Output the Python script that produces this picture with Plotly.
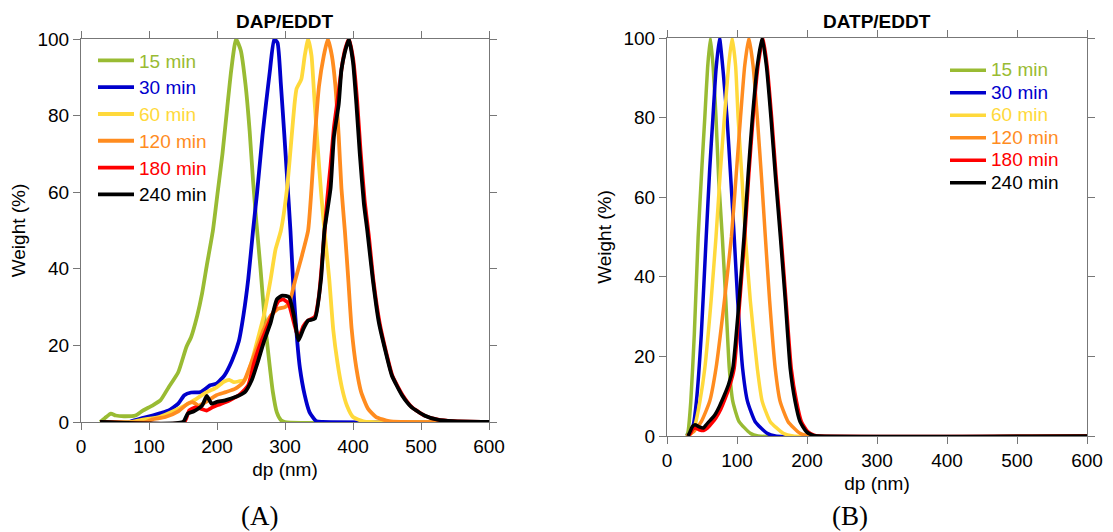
import plotly.graph_objects as go

W, H = 1113, 532

labels = ["15 min", "30 min", "60 min", "120 min", "180 min", "240 min"]
colors = ["#99BB33", "#0000CC", "#FFD93B", "#FF8C1F", "#FF0000", "#000000"]

# ---------------- Panel A : DAP/EDDT ----------------
a15_x = [28, 35, 44, 51, 63, 80, 91, 105, 117, 129, 143, 155, 162, 171, 178, 185, 194, 201, 208, 215, 221, 228, 235, 242, 248, 253, 258, 264, 270, 276, 282, 288, 294, 300, 600]
a15_y = [0, 1.0, 2.2, 1.7, 1.5, 1.7, 3.0, 4.3, 5.7, 9.1, 13, 19.6, 22.2, 27.8, 33.5, 40.9, 50, 60, 70, 82, 92, 100, 97, 88, 76, 63, 52, 40, 27, 17, 8, 2.5, 0.5, 0, 0]

a30_x = [28, 70, 77, 90, 105, 117, 129, 143, 152, 162, 176, 190, 199, 211, 222, 232, 239, 246, 253, 259, 267, 272, 278, 284, 289, 294, 299, 303, 308, 313, 318, 322, 329, 336, 346, 355, 600]
a30_y = [0, 0, 0.4, 1, 1.7, 2.3, 3, 4.8, 7, 7.7, 7.8, 9.6, 10, 12.2, 16, 21, 28, 37.4, 50, 60, 75, 83, 92, 100, 99, 88, 75, 64, 50, 33, 21, 14, 7, 2.6, 0.2, 0, 0]

a60_x = [28, 75, 91, 115, 138, 162, 185, 199, 210, 218, 225, 232, 241, 251, 260, 269, 279, 286, 294, 303, 310, 314, 317, 324, 329, 334, 339, 343, 348, 353, 358, 365, 371, 377, 384, 391, 400, 415, 425, 600]
a60_y = [0, 0, 0.6, 1.3, 3, 5.2, 7.8, 9, 10.5, 11, 10.4, 10.6, 11, 15.7, 21.7, 27.8, 37.4, 45, 50, 61, 75, 83, 87, 89.5, 95.6, 100, 95.6, 85, 72, 60, 50, 37.4, 24, 15.7, 8.7, 4.3, 1.3, 0.2, 0, 0]

a120_x = [28, 95, 105, 124, 143, 157, 164, 173, 185, 199, 213, 227, 239, 251, 260, 269, 279, 290, 300, 306, 315, 325, 334, 339, 344, 350, 357, 363, 369, 374, 379, 383, 388, 393, 398, 405, 412, 422, 434, 453, 470, 600]
a120_y = [0, 0, 0.7, 1.3, 2.8, 4.8, 5.2, 4.3, 5.4, 7, 7.8, 8.7, 10.4, 15.7, 20, 24.3, 27.8, 29.6, 30, 31, 37, 43.5, 50, 61, 74.6, 87.7, 95.6, 100, 95.6, 88, 74.6, 61, 50, 37.4, 24.3, 14, 7.8, 3.5, 1.3, 0.2, 0, 0]

a180_x = [28, 152, 159, 168, 176, 185, 194, 204, 213, 222, 232, 241, 246, 255, 265, 272, 279, 290, 297, 305, 313, 320, 327, 334, 344, 350, 356, 362, 367, 372, 378, 383, 388, 394, 400, 406, 411, 417, 423, 430, 439, 449, 458, 473, 487, 506, 525, 548, 600]
a180_y = [0, 0, 3, 3.8, 3.5, 3, 3.9, 4.6, 5.2, 6, 7, 8.5, 9.6, 15.7, 21, 24, 27, 31.5, 32, 31, 26, 22, 25, 26.5, 27.5, 33, 45, 58, 67, 77, 85, 92, 97, 100, 95, 84, 71, 58, 49, 37, 26, 18, 12, 7, 3.8, 1.6, 0.6, 0.2, 0]

a240_x = [28, 150, 157, 166, 178, 185, 192, 199, 213, 227, 241, 251, 260, 269, 279, 288, 296, 306, 313, 320, 327, 334, 344, 353, 358, 367, 372, 379, 383, 388, 394, 400, 405, 410, 416, 421, 429, 438, 448, 457, 472, 486, 505, 524, 547, 600]
a240_y = [0, 0, 2.2, 2.8, 4.3, 6.8, 4.8, 5.2, 5.7, 6.5, 7.8, 10.9, 15.7, 21, 26, 32, 33, 32.6, 27.8, 21.3, 24.3, 26.5, 27, 37.4, 50, 61, 74.6, 83, 92, 96.5, 100, 94, 83, 70, 57, 50, 37.4, 26, 18.3, 12.2, 7, 3.9, 1.7, 0.6, 0.2, 0]

# ---------------- Panel B : DATP/EDDT ----------------
b15_x = [28, 30, 34, 39, 44.5, 50, 54, 58, 62, 66, 70, 74, 79, 84, 89, 94, 103, 119, 130, 600]
b15_y = [0, 1, 8.7, 25.5, 50, 68, 80, 92.5, 100, 92.5, 80, 64, 50, 34, 17, 8.7, 3.6, 0.7, 0, 0]

b30_x = [28, 33, 37.5, 42, 49, 56, 61, 65.6, 70, 75, 80, 85.7, 91, 96, 101, 108, 115, 126, 143, 155, 600]
b30_y = [0, 0.7, 2.7, 8.7, 25.5, 50, 67, 80, 92, 100, 92, 80, 65, 50, 34, 17, 8.7, 3.6, 0.7, 0, 0]

b60_x = [28, 35, 40, 47, 54, 63, 70, 76, 82, 88, 93, 98, 101.6, 107, 112, 119, 129, 136, 147.5, 166, 180, 600]
b60_y = [0, 0.7, 2.7, 8.7, 17, 34, 50, 66, 80, 93, 100, 93, 80, 65, 50, 34, 17, 8.7, 3.6, 0.7, 0, 0]

b120_x = [28, 37.5, 49, 61, 70, 82, 92, 99, 105, 111, 117, 123, 129, 135, 140.5, 146.6, 154.6, 161.6, 173, 190, 205, 600]
b120_y = [0, 1, 3.6, 8.7, 17, 34, 50, 66, 80, 93, 100, 93, 80, 65, 50, 34, 17, 8.7, 3.6, 0.7, 0, 0]

b180_x = [30, 33, 37, 41, 47, 53, 58, 64, 70, 77, 84, 90, 96, 104, 111, 117, 123, 130, 137, 143, 149.5, 156, 163, 170, 177.5, 185, 192, 201, 210, 218, 600]
b180_y = [0, 0.5, 1.8, 2.0, 1.5, 1.4, 2, 3.2, 4.6, 6.8, 9.8, 12.8, 17, 34, 50, 66, 80, 93, 100, 93, 80, 65, 50, 34, 17, 8.7, 3.6, 1.1, 0.2, 0, 0]

b240_x = [30, 33, 36, 40, 46, 52, 56, 62, 68, 75, 82, 88, 94, 103, 110, 116, 122, 129, 136, 142, 148.5, 155, 162, 169, 176, 183, 190, 199, 208, 215, 600]
b240_y = [0, 1.1, 2.3, 2.8, 2.3, 2, 2.8, 4, 5.2, 7.5, 10.3, 13, 17, 34, 50, 66, 80, 93, 100, 93, 80, 65, 50, 34, 17, 8.7, 3.6, 1.1, 0.2, 0, 0]

panelA = [(a15_x, a15_y), (a30_x, a30_y), (a60_x, a60_y), (a120_x, a120_y), (a180_x, a180_y), (a240_x, a240_y)]
panelB = [(b15_x, b15_y), (b30_x, b30_y), (b60_x, b60_y), (b120_x, b120_y), (b180_x, b180_y), (b240_x, b240_y)]

x_ticks = [0, 100, 200, 300, 400, 500, 600]
y_ticks = [0, 20, 40, 60, 80, 100]

FONT = "Liberation Sans, Arial, sans-serif"
FS = 19
AXC = "#777777"

fig = go.Figure()

for i, (xs, ys) in enumerate(panelA):
    fig.add_trace(go.Scatter(
        x=xs, y=ys, mode="lines", xaxis="x", yaxis="y",
        line=dict(color=colors[i], width=3.8, shape="spline", smoothing=0.5),
        name='<span style="color:%s;font-size:%spx">%s</span>' % (colors[i], FS, labels[i]),
        legend="legend", legendgroup="a%d" % i,
    ))
for i, (xs, ys) in enumerate(panelB):
    fig.add_trace(go.Scatter(
        x=xs, y=ys, mode="lines", xaxis="x2", yaxis="y2",
        line=dict(color=colors[i], width=3.5, shape="spline", smoothing=0.5),
        name='<span style="color:%s;font-size:%spx">%s</span>' % (colors[i], FS, labels[i]),
        legend="legend2", legendgroup="b%d" % i,
    ))

def px_x(p):
    return p / W

def px_y(p):
    return 1 - p / H

axis_common = dict(
    showline=True, linecolor=AXC, linewidth=1.2, mirror="ticks",
    ticks="outside", ticklen=7, tickcolor=AXC, tickwidth=1.2,
    showgrid=False, zeroline=False, automargin=False,
    tickfont=dict(family=FONT, size=FS, color="#000000"),
)

fig.update_layout(
    width=W, height=H, autosize=False,
    margin=dict(l=0, r=0, t=0, b=0, autoexpand=False),
    paper_bgcolor="white", plot_bgcolor="white",
    font=dict(family=FONT, size=FS, color="#000000"),
    xaxis=dict(domain=[px_x(81), px_x(489)], range=[0, 600], tickvals=x_ticks, anchor="y",
               title=dict(text="dp (nm)", standoff=6, font=dict(size=FS)), **axis_common),
    yaxis=dict(domain=[px_y(422), px_y(39)], range=[0, 100], tickvals=y_ticks, anchor="x",
               title=dict(text="Weight (%)", standoff=6, font=dict(size=FS)), **axis_common),
    xaxis2=dict(domain=[px_x(667), px_x(1087)], range=[0, 600], tickvals=x_ticks, anchor="y2",
                title=dict(text="dp (nm)", standoff=6, font=dict(size=FS)), **axis_common),
    yaxis2=dict(domain=[px_y(436), px_y(38)], range=[0, 100], tickvals=y_ticks, anchor="x2",
                title=dict(text="Weight (%)", standoff=6, font=dict(size=FS)), **axis_common),
    legend=dict(x=px_x(93), y=px_y(42), xanchor="left", yanchor="top",
                bgcolor="rgba(0,0,0,0)", borderwidth=0, itemwidth=36,
                font=dict(family=FONT, size=18.3), tracegroupgap=0),
    legend2=dict(x=px_x(945), y=px_y(54), xanchor="left", yanchor="top",
                 bgcolor="rgba(0,0,0,0)", borderwidth=0, itemwidth=36,
                 font=dict(family=FONT, size=15), tracegroupgap=0),
    showlegend=True,
)

annotations = [
    dict(text="<b>DAP/EDDT</b>", x=0.5, xref="x domain", y=px_y(22), yref="paper",
         showarrow=False, font=dict(family=FONT, size=FS), xanchor="center", yanchor="middle"),
    dict(text="<b>DATP/EDDT</b>", x=0.5, xref="x2 domain", y=px_y(21), yref="paper",
         showarrow=False, font=dict(family=FONT, size=FS), xanchor="center", yanchor="middle"),
    dict(text="(A)", x=px_x(259), xref="paper", y=px_y(516), yref="paper",
         showarrow=False, font=dict(family="Liberation Serif, Times New Roman, serif", size=27),
         xanchor="center", yanchor="middle"),
    dict(text="(B)", x=px_x(850), xref="paper", y=px_y(516), yref="paper",
         showarrow=False, font=dict(family="Liberation Serif, Times New Roman, serif", size=27),
         xanchor="center", yanchor="middle"),
]
fig.update_layout(annotations=annotations)

fig.write_html("out.html", config={"displayModeBar": False},
               post_script="document.body.style.margin='0px';")
